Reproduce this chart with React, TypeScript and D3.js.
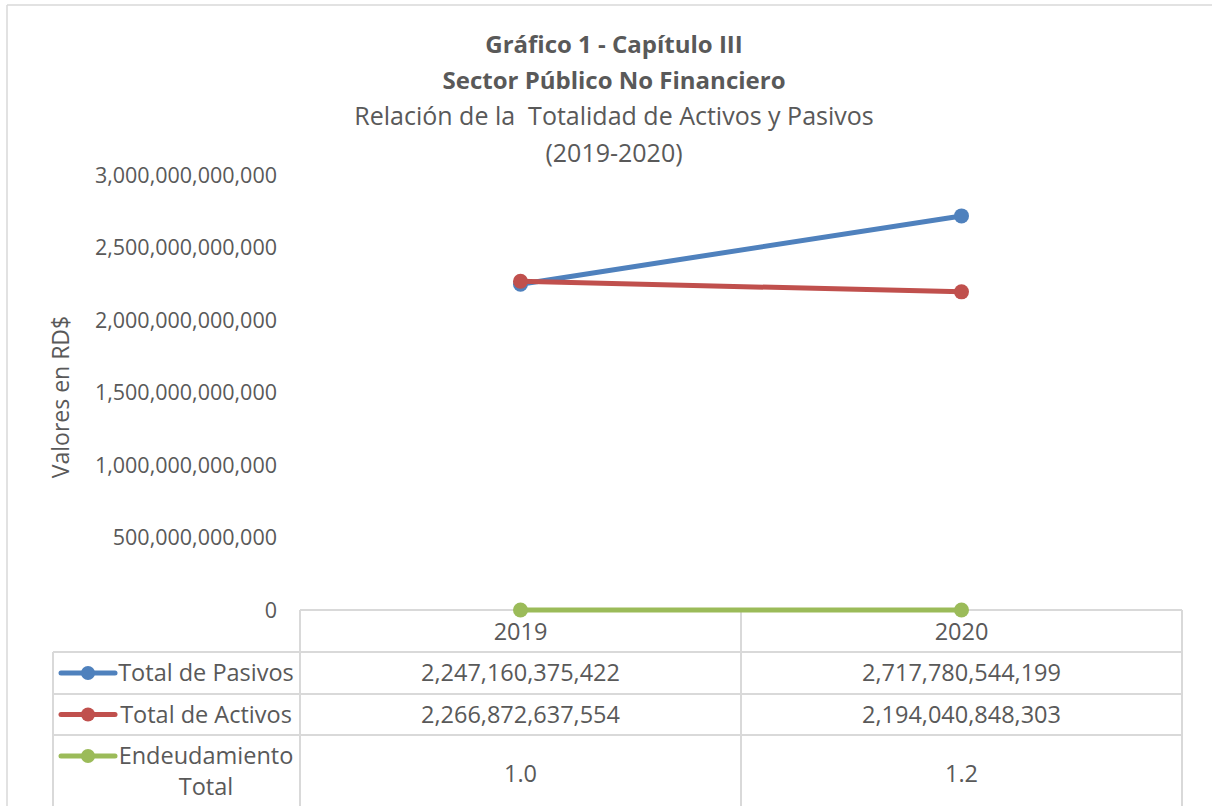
import React from "react";
import * as d3 from "d3";

const years = ["2019", "2020"];
const pasivos = [2247160375422, 2717780544199];
const activos = [2266872637554, 2194040848303];
const endeudamiento = [1.0, 1.2];
const yTicks = [0, 500e9, 1000e9, 1500e9, 2000e9, 2500e9, 3000e9];
const seriesNames = ["Total de Pasivos", "Total de Activos", "Endeudamiento Total"];
const seriesColors = ["#4F81BD", "#C0504D", "#9BBB59"];
const tableText = [
  ["2,247,160,375,422", "2,717,780,544,199"],
  ["2,266,872,637,554", "2,194,040,848,303"],
  ["1.0", "1.2"],
];

const W = 1212;
const H = 806;
const FONT = "'Open Sans', sans-serif";
const TXT = "#595959";
const GRID = "#d9d9d9";
const FS_TICK = 21.5;
const FS_TAB = 23.5;

export default function App() {
  const plotL = 300;
  const plotR = 1182;
  const x = d3.scaleBand().domain(years).range([plotL, plotR]);
  const y = d3.scaleLinear().domain([0, 3000e9]).range([610, 175]);
  const fmt = d3.format(",.0f");
  const cx = (yr: string) => (x(yr) as number) + x.bandwidth() / 2;

  const line = d3
    .line<[string, number]>()
    .x((d) => cx(d[0]))
    .y((d) => y(d[1]));

  const series = [pasivos, activos, endeudamiento];
  const rowLines = [610, 652, 694, 735, 812];
  const tableL = 53;

  return (
    <svg
      width={W}
      height={H}
      style={{ position: "absolute", left: 0, top: 0, background: "#fff" }}
      fontFamily={FONT}
    >
      <rect x={0} y={0} width={W} height={H} fill="#fff" />
      <line x1={7} y1={5} x2={W} y2={5} stroke={GRID} strokeWidth={1.5} />
      <line x1={7} y1={5} x2={7} y2={H} stroke={GRID} strokeWidth={1.5} />

      <g fill={TXT} textAnchor="middle">
        <text x={614} y={53} fontSize={24} fontWeight="bold">Gráfico 1 - Capítulo III</text>
        <text x={614} y={89} fontSize={24} fontWeight="bold">Sector Público No Financiero</text>
        <text x={614} y={125} fontSize={25} xmlSpace="preserve">{"Relación de la  Totalidad de Activos y Pasivos"}</text>
        <text x={614} y={162} fontSize={25}>(2019-2020)</text>
      </g>

      <text
        transform={`translate(69,397) rotate(-90)`}
        textAnchor="middle"
        fill={TXT}
        fontSize={23}
      >
        Valores en RD$
      </text>

      {yTicks.map((t) => (
        <text key={t} x={277} y={y(t)} dy="0.35em" textAnchor="end" fill={TXT} fontSize={FS_TICK}>
          {fmt(t)}
        </text>
      ))}

      <g stroke={GRID} strokeWidth={2} fill="none">
        <line x1={plotL} y1={610} x2={plotR} y2={610} />
        {rowLines.slice(1).map((ly) => (
          <line key={ly} x1={tableL} y1={ly} x2={plotR} y2={ly} />
        ))}
        <line x1={tableL} y1={652} x2={tableL} y2={812} />
        <line x1={plotL} y1={610} x2={plotL} y2={812} />
        {years.map((yr) => (
          <line key={yr} x1={(x(yr) as number) + x.bandwidth()} y1={610} x2={(x(yr) as number) + x.bandwidth()} y2={812} />
        ))}
      </g>

      {years.map((yr) => (
        <text key={yr} x={cx(yr)} y={632} dy="0.35em" textAnchor="middle" fill={TXT} fontSize={FS_TAB}>
          {yr}
        </text>
      ))}

      {tableText.map((row, ri) =>
        row.map((v, ci) => {
          const top = rowLines[ri + 1];
          const bot = ri === 2 ? 812 : rowLines[ri + 2];
          return (
            <text
              key={`${ri}-${ci}`}
              x={cx(years[ci])}
              y={(top + bot) / 2}
              dy="0.35em"
              textAnchor="middle"
              fill={TXT}
              fontSize={FS_TAB}
            >
              {v}
            </text>
          );
        })
      )}

      {seriesNames.map((name, i) => {
        const top = rowLines[i + 1];
        const ky = i === 2 ? 756 : (top + rowLines[i + 2]) / 2;
        return (
          <g key={name}>
            <line x1={61} y1={ky} x2={115} y2={ky} stroke={seriesColors[i]} strokeWidth={5} strokeLinecap="round" />
            <circle cx={88} cy={ky} r={7} fill={seriesColors[i]} />
            {i < 2 ? (
              <text x={206} y={ky} dy="0.35em" textAnchor="middle" fill={TXT} fontSize={FS_TAB}>
                {name}
              </text>
            ) : (
              <text textAnchor="middle" fill={TXT} fontSize={FS_TAB}>
                <tspan x={206} y={756} dy="0.35em">Endeudamiento</tspan>
                <tspan x={206} y={787} dy="0.35em">Total</tspan>
              </text>
            )}
          </g>
        );
      })}

      {series.map((vals, i) => {
        const pts = years.map((yr, j) => [yr, vals[j]] as [string, number]);
        return (
          <g key={i}>
            <path d={line(pts) || ""} fill="none" stroke={seriesColors[i]} strokeWidth={5} strokeLinecap="round" />
            {pts.map((p) => (
              <circle key={p[0]} cx={cx(p[0])} cy={y(p[1])} r={7.5} fill={seriesColors[i]} />
            ))}
          </g>
        );
      })}
    </svg>
  );
}
